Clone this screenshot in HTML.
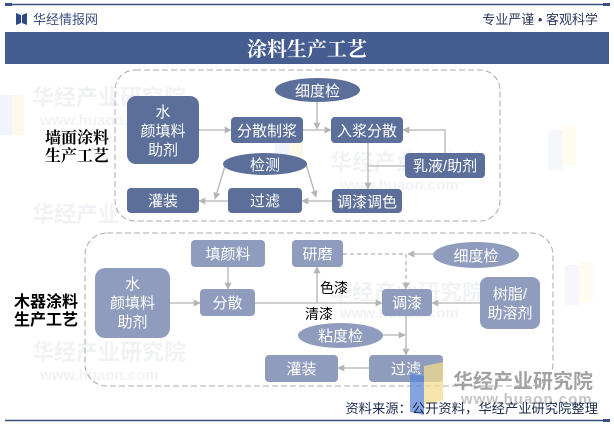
<!DOCTYPE html>
<html>
<head>
<meta charset="utf-8">
<style>
html,body{margin:0;padding:0;background:#fff;}
body{width:614px;height:425px;overflow:hidden;}
svg{display:block;}
.nt{font-family:"Liberation Sans","Noto Sans CJK SC",sans-serif;font-size:15px;fill:#fff;text-anchor:middle;}
.wm{font-family:"Liberation Sans","Noto Sans CJK SC",sans-serif;font-weight:700;fill:#f1f2f5;}
</style>
</head>
<body>
<svg width="614" height="425" viewBox="0 0 614 425" xmlns="http://www.w3.org/2000/svg">
<defs>
<marker id="ar" viewBox="0 0 10 10" refX="9" refY="5" markerWidth="7" markerHeight="7" orient="auto" markerUnits="userSpaceOnUse">
<path d="M0,0 L10,5 L0,10 z" fill="#b5b5b5"/>
</marker>
</defs>

<!-- faint watermarks -->
<g>
<text class="wm" x="32" y="105" font-size="22">华经产业研究院</text>
<text class="wm" x="40" y="125" font-size="15">www.huaon.com</text>
<text class="wm" x="32" y="222" font-size="22">华经产业</text>
<text class="wm" x="32" y="360" font-size="22">华经产业研究院</text>
<text class="wm" x="40" y="380" font-size="15">www.huaon.com</text>
<text class="wm" x="330" y="170" font-size="22">华经产业研究院</text>
<text class="wm" x="340" y="190" font-size="15">www.huaon.com</text>
<text class="wm" x="330" y="300" font-size="22">华经产业研究院</text>
<text class="wm" x="340" y="318" font-size="15">www.huaon.com</text>
<rect x="0" y="95" width="12" height="40" fill="#f1f5fb"/>
<rect x="12" y="95" width="12" height="40" fill="#fdf9ea"/>
<rect x="275" y="130" width="14" height="40" fill="#f1f5fb"/>
<rect x="289" y="125" width="14" height="40" fill="#fdf9ea"/>
<rect x="548" y="130" width="14" height="40" fill="#f5f7fc"/>
<rect x="562" y="125" width="14" height="40" fill="#fefbf0"/>
<rect x="565" y="265" width="14" height="40" fill="#f5f7fc"/>
<rect x="579" y="262" width="14" height="40" fill="#fefbf0"/>
</g>

<!-- header -->
<line x1="5" y1="4.5" x2="609" y2="4.5" stroke="#3b4f80" stroke-width="1.5"/>
<rect x="5" y="3" width="7" height="3" fill="#3b4f80"/>
<rect x="603" y="3" width="7" height="3" fill="#3b4f80"/>
<path d="M16,13 L21,15 L21,23 L16,25 z" fill="#2e4a86"/>
<path d="M27,13 L22,15 L22,23 L27,25 z" fill="#2e4a86"/>
<text x="33" y="24" font-family="Liberation Sans,Noto Sans CJK SC,sans-serif" font-size="13" fill="#3b4f80">华经情报网</text>
<text x="598" y="24" text-anchor="end" font-family="Liberation Sans,Noto Sans CJK SC,sans-serif" font-size="13" fill="#2d3a5c">专业严谨 • 客观科学</text>
<rect x="5" y="32" width="604" height="32" fill="#455d90"/>
<text x="307" y="56" text-anchor="middle" font-family="Liberation Serif,Noto Serif CJK SC,serif" font-weight="700" font-size="20" fill="#fff">涂料生产工艺</text>

<!-- ===== top diagram ===== -->
<rect x="115" y="70" width="385" height="151" rx="20" fill="none" stroke="#ababab" stroke-width="1" stroke-dasharray="6,3"/>
<text x="45" y="143" font-family="Liberation Serif,Noto Serif CJK SC,serif" font-weight="700" font-size="16" fill="#000">墙面涂料</text>
<text x="45" y="161" font-family="Liberation Serif,Noto Serif CJK SC,serif" font-weight="700" font-size="16" fill="#000">生产工艺</text>

<g stroke="#b5b5b5" stroke-width="1.3" fill="none">
<line x1="199" y1="130" x2="231" y2="130" marker-end="url(#ar)"/>
<line x1="303" y1="130" x2="331" y2="130" marker-end="url(#ar)"/>
<line x1="317" y1="102" x2="317" y2="129" marker-end="url(#ar)"/>
<polyline points="445,153 445,130 403,130" marker-end="url(#ar)"/>
<line x1="368" y1="143" x2="368" y2="189" marker-end="url(#ar)"/>
<line x1="405" y1="166" x2="368" y2="166"/>
<line x1="332" y1="201" x2="302" y2="201" marker-end="url(#ar)"/>
<line x1="228" y1="201" x2="199" y2="201" marker-end="url(#ar)"/>
<line x1="225" y1="166" x2="215" y2="199" marker-end="url(#ar)"/>
<line x1="305" y1="161" x2="316" y2="197" marker-end="url(#ar)"/>
</g>

<g fill="#5b6f9a">
<rect x="127" y="96" width="72" height="68" rx="9"/>
<rect x="231" y="117" width="72" height="26" rx="4"/>
<rect x="331" y="117" width="72" height="26" rx="4"/>
<rect x="405" y="153" width="80" height="25" rx="4"/>
<rect x="332" y="189" width="70" height="24" rx="4"/>
<rect x="228" y="188" width="74" height="25" rx="4"/>
<rect x="127" y="188" width="72" height="25" rx="4"/>
<ellipse cx="317.5" cy="90" rx="42.5" ry="12"/>
<ellipse cx="265" cy="164" rx="42" ry="11"/>
</g>
<text class="nt" x="163" y="117">水</text>
<text class="nt" x="163" y="136">颜填料</text>
<text class="nt" x="163" y="155">助剂</text>
<text class="nt" x="267" y="136">分散制浆</text>
<text class="nt" x="367" y="136">入浆分散</text>
<text class="nt" x="445" y="171">乳液/助剂</text>
<text class="nt" x="367" y="207">调漆调色</text>
<text class="nt" x="265" y="206">过滤</text>
<text class="nt" x="163" y="206">灌装</text>
<text class="nt" x="317.5" y="96">细度检</text>
<text class="nt" x="265" y="170">检测</text>

<!-- ===== bottom diagram ===== -->
<rect x="85" y="233" width="468" height="153" rx="22" fill="none" stroke="#ababab" stroke-width="1" stroke-dasharray="6,3"/>
<text x="14" y="307" font-family="Liberation Sans,Noto Sans CJK SC,sans-serif" font-weight="700" font-size="16" fill="#000">木器涂料</text>
<text x="14" y="325" font-family="Liberation Sans,Noto Sans CJK SC,sans-serif" font-weight="700" font-size="16" fill="#000">生产工艺</text>

<g stroke="#b5b5b5" stroke-width="1.3" fill="none">
<line x1="170" y1="303" x2="200" y2="303" marker-end="url(#ar)"/>
<line x1="228" y1="267" x2="228" y2="289" marker-end="url(#ar)"/>
<line x1="255" y1="303" x2="382" y2="303" marker-end="url(#ar)"/>
<line x1="317" y1="303" x2="317" y2="267" marker-end="url(#ar)"/>
<polyline points="343,254 406,254 406,289" stroke-dasharray="4,3" marker-end="url(#ar)"/>
<line x1="433" y1="254" x2="408" y2="254" marker-end="url(#ar)"/>
<line x1="480" y1="303" x2="432" y2="303" marker-end="url(#ar)"/>
<line x1="406" y1="316" x2="406" y2="355" marker-end="url(#ar)"/>
<line x1="383" y1="335" x2="405" y2="335" marker-end="url(#ar)"/>
<line x1="369" y1="368" x2="338" y2="368" marker-end="url(#ar)"/>
</g>

<g fill="#8f9cbd">
<rect x="95" y="268" width="75" height="70" rx="10"/>
<rect x="191" y="240" width="74" height="27" rx="4"/>
<rect x="200" y="289" width="55" height="27" rx="4"/>
<rect x="292" y="240" width="51" height="27" rx="4"/>
<rect x="382" y="289" width="50" height="27" rx="4"/>
<rect x="480" y="277" width="60" height="52" rx="8"/>
<rect x="369" y="355" width="74" height="27" rx="4"/>
<rect x="265" y="355" width="73" height="27" rx="4"/>
<ellipse cx="476" cy="255" rx="43" ry="13"/>
<ellipse cx="340.5" cy="335.5" rx="42.5" ry="12.5"/>
</g>
<text class="nt" x="132.5" y="289">水</text>
<text class="nt" x="132.5" y="308">颜填料</text>
<text class="nt" x="132.5" y="327">助剂</text>
<text class="nt" x="228" y="259">填颜料</text>
<text class="nt" x="227.5" y="308">分散</text>
<text class="nt" x="317.5" y="259">研磨</text>
<text class="nt" x="407" y="308">调漆</text>
<text class="nt" x="510" y="299">树脂/</text>
<text class="nt" x="510" y="318">助溶剂</text>
<text class="nt" x="406" y="374">过滤</text>
<text class="nt" x="301.5" y="374">灌装</text>
<text class="nt" x="476" y="261">细度检</text>
<text class="nt" x="340.5" y="341">粘度检</text>
<text x="320" y="293" font-family="Liberation Sans,Noto Sans CJK SC,sans-serif" font-size="14" fill="#000">色漆</text>
<text x="305" y="319" font-family="Liberation Sans,Noto Sans CJK SC,sans-serif" font-size="14" fill="#000">清漆</text>

<!-- bottom-right watermark logo -->
<path d="M410,372 L424,376 L424,415 L410,412 z" fill="#5b86d6" opacity="0.75"/>
<path d="M424,366 L443,362 L443,400 L424,405 z" fill="#f1dc8c" opacity="0.75"/>
<text x="453" y="388" font-family="Liberation Sans,Noto Sans CJK SC,sans-serif" font-weight="700" font-size="20" fill="#a3a3a3">华经产业研究院</text>
<text x="461" y="404" font-family="Liberation Sans,DejaVu Sans,sans-serif" font-weight="700" font-size="15" fill="#c4c4c4" letter-spacing="1">www.huaon.com</text>

<!-- footer -->
<text x="598" y="413" text-anchor="end" font-family="Liberation Sans,Noto Sans CJK SC,sans-serif" font-size="13.3" fill="#1d2b50">资料来源：公开资料，华经产业研究院整理</text>
<line x1="5" y1="420.5" x2="609" y2="420.5" stroke="#3b4f80" stroke-width="1.5"/>
<rect x="603" y="419" width="7" height="3" fill="#3b4f80"/>
</svg>
</body>
</html>
